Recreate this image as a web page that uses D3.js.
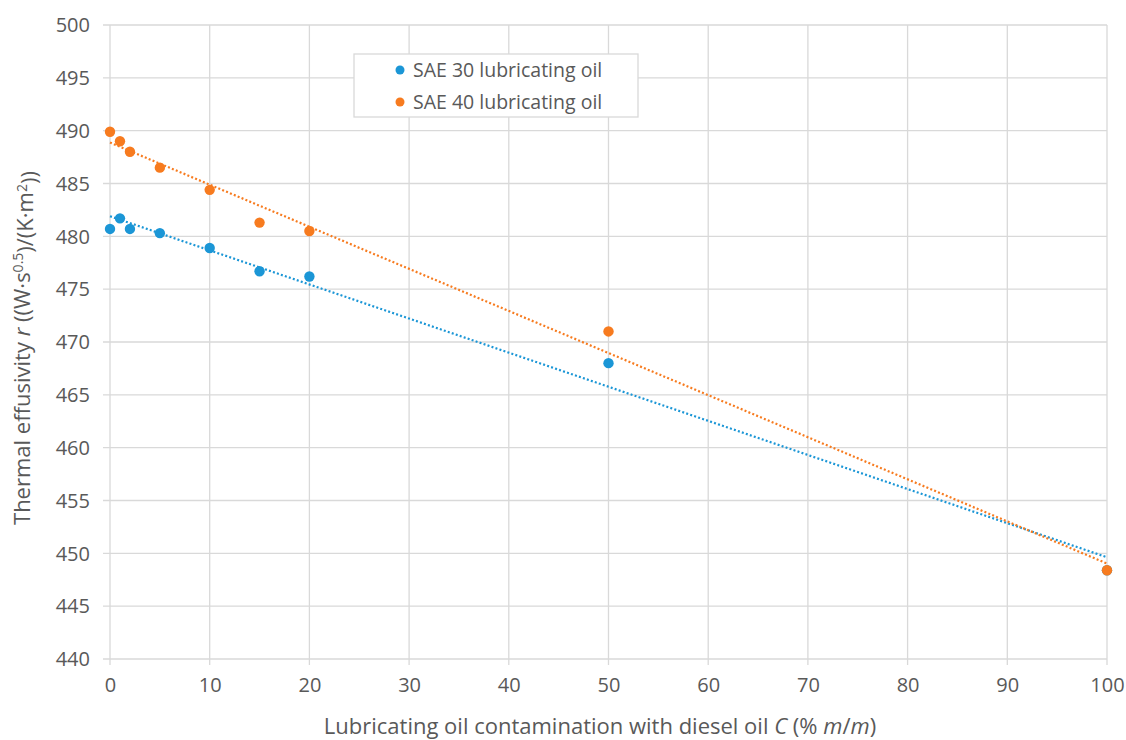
<!DOCTYPE html>
<html>
<head>
<meta charset="utf-8">
<script src="https://cdn.jsdelivr.net/npm/d3@7"></script>
<style>
	body { margin: 0; background: #fff; }
	svg text { font-family: "Open Sans", sans-serif; fill: #595959; }
</style>
</head>
<body>
<svg id="chart" width="1126" height="740"></svg>
<script>
//===== DATA =====//
var concentrations = [0, 1, 2, 5, 10, 15, 20, 50, 100];
var sae30Values = [480.7, 481.7, 480.7, 480.3, 478.9, 476.7, 476.2, 468.0, 448.4];
var sae40Values = [489.9, 489.0, 488.0, 486.5, 484.4, 481.3, 480.5, 471.0, 448.4];
var seriesNames = ['SAE 30 lubricating oil', 'SAE 40 lubricating oil'];
var seriesColors = ['#1b96d6', '#f77b1f'];
var xTicks = [0, 10, 20, 30, 40, 50, 60, 70, 80, 90, 100];
var yTicks = [440, 445, 450, 455, 460, 465, 470, 475, 480, 485, 490, 495, 500];

var margin = {left: 110, right: 19, top: 25, bottom: 81};
var width = 1126 - margin.left - margin.right, height = 740 - margin.top - margin.bottom;

var svg = d3.select('#chart');
var g = svg.append('g').attr('transform', 'translate(' + margin.left + ',' + margin.top + ')');

var x = d3.scaleLinear().domain([0, 100]).range([0, width]);
var y = d3.scaleLinear().domain([440, 500]).range([height, 0]);

// grid
g.selectAll('line.hgrid').data(yTicks).enter()
	.append('line').classed('hgrid', true)
	.attr('x1', -7).attr('x2', width)
	.attr('y1', function (d) { return y(d); }).attr('y2', function (d) { return y(d); })
	.attr('stroke', '#d9d9d9').attr('stroke-width', 1.3);
g.selectAll('line.vgrid').data(xTicks).enter()
	.append('line').classed('vgrid', true)
	.attr('y1', 0).attr('y2', height + 6)
	.attr('x1', function (d) { return x(d); }).attr('x2', function (d) { return x(d); })
	.attr('stroke', '#d9d9d9').attr('stroke-width', 1.3);

// axis labels
var yAxis = d3.axisLeft(y).tickValues(yTicks).tickSize(0).tickPadding(20);
g.append('g').call(yAxis)
	.call(function (a) { a.select('.domain').remove(); })
	.selectAll('text').style('font-size', '20px').attr('dy', '0.34em');
var xAxis = d3.axisBottom(x).tickValues(xTicks).tickSize(0).tickPadding(19);
g.append('g').attr('transform', 'translate(0,' + height + ')').call(xAxis)
	.call(function (a) { a.select('.domain').remove(); })
	.selectAll('text').style('font-size', '20px');

// trend lines (least squares fit, as the spreadsheet does)
function fit(xs, ys) {
	var mx = d3.mean(xs), my = d3.mean(ys);
	var sxy = d3.sum(xs, function (v, i) { return (v - mx) * (ys[i] - my); });
	var sxx = d3.sum(xs, function (v) { return (v - mx) * (v - mx); });
	var slope = sxy / sxx;
	return {slope: slope, intercept: my - slope * mx};
}

var allSeries = [sae30Values, sae40Values];
allSeries.forEach(function (vals, i) {
	var f = fit(concentrations, vals);
	g.append('line')
		.attr('x1', x(0)).attr('y1', y(f.intercept))
		.attr('x2', x(100)).attr('y2', y(f.intercept + 100 * f.slope))
		.attr('stroke', seriesColors[i]).attr('stroke-width', 2.2)
		.attr('stroke-dasharray', '2,2.2');
});

allSeries.forEach(function (vals, i) {
	g.selectAll('circle.s' + i).data(vals).enter()
		.append('circle').classed('s' + i, true)
		.attr('cx', function (d, j) { return x(concentrations[j]); })
		.attr('cy', function (d) { return y(d); })
		.attr('r', 5.2)
		.attr('fill', seriesColors[i]);
});

// legend
var legend = svg.append('g').attr('transform', 'translate(354,54)');
legend.append('rect').attr('width', 284).attr('height', 63)
	.attr('fill', '#fff').attr('stroke', '#d9d9d9').attr('stroke-width', 1.3);
seriesNames.forEach(function (name, i) {
	legend.append('circle').attr('cx', 46).attr('cy', 16 + i * 32).attr('r', 4.5).attr('fill', seriesColors[i]);
	legend.append('text').attr('x', 59).attr('y', 16 + i * 32).attr('dy', '0.35em')
		.style('font-size', '19.5px').text(name);
});

// axis titles
svg.append('text')
	.attr('x', 600).attr('y', 726).attr('dy', '0.35em')
	.attr('text-anchor', 'middle').style('font-size', '22px')
	.call(function (t) {
		t.append('tspan').text('Lubricating oil contamination with diesel oil ');
		t.append('tspan').style('font-style', 'italic').text('C');
		t.append('tspan').text(' (% ');
		t.append('tspan').style('font-style', 'italic').text('m');
		t.append('tspan').text('/');
		t.append('tspan').style('font-style', 'italic').text('m');
		t.append('tspan').text(')');
	});

svg.append('text')
	.attr('transform', 'translate(22,348) rotate(-90)').attr('dy', '0.35em')
	.attr('text-anchor', 'middle').style('font-size', '22px')
	.call(function (t) {
		t.append('tspan').text('Thermal effusivity ');
		t.append('tspan').style('font-style', 'italic').text('r');
		t.append('tspan').text(' ((W·s');
		t.append('tspan').attr('dy', '-0.45em').style('font-size', '14px').text('0.5');
		t.append('tspan').attr('dy', '0.45em').text(')/(K·m');
		t.append('tspan').attr('dy', '-0.45em').style('font-size', '14px').text('2');
		t.append('tspan').attr('dy', '0.45em').text('))');
	});
</script>
</body>
</html>
